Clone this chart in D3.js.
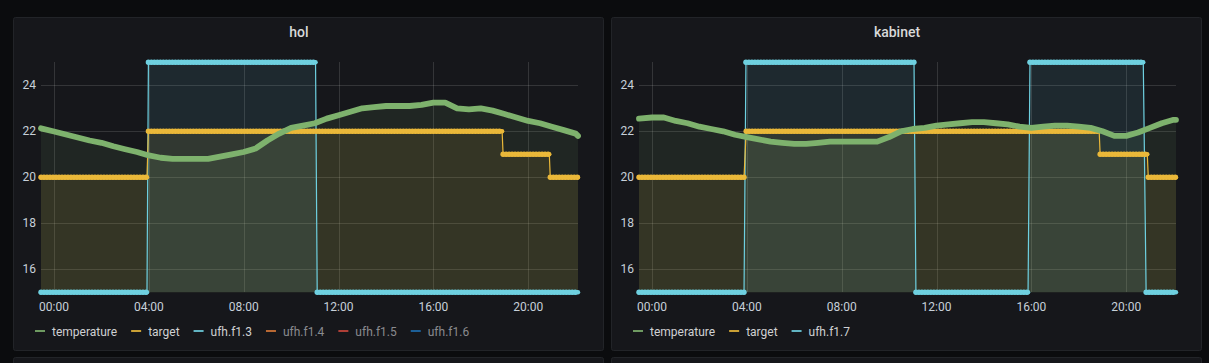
<!DOCTYPE html>
<html><head><meta charset="utf-8">
<script src="https://cdn.jsdelivr.net/npm/d3@7"></script>
<style>
html,body{margin:0;padding:0;background:#0b0c0e;}
svg{display:block;font-family:Roboto,"Noto Sans",sans-serif;}
</style>
</head><body>
<svg id="chart" width="1209" height="363"></svg>
<script>
// ---- data (hours relative to midnight) ----
const tempHours = [-0.55, 0, 0.5, 1, 1.5, 2, 2.5, 3, 3.5, 4, 4.5, 5, 5.5, 6, 6.5, 7, 7.5, 8, 8.5, 9, 9.5, 10, 10.5, 11, 11.5, 12, 12.5, 13, 13.5, 14, 14.5, 15, 15.5, 16, 16.5, 17, 17.5, 18, 18.5, 19, 19.5, 20, 20.5, 21, 21.5, 22, 22.1];
const holTemperature = [22.13, 21.99, 21.86, 21.73, 21.6, 21.5, 21.35, 21.22, 21.1, 20.95, 20.85, 20.8, 20.8, 20.8, 20.8, 20.9, 21.0, 21.1, 21.25, 21.6, 21.9, 22.15, 22.25, 22.35, 22.55, 22.7, 22.85, 23.0, 23.05, 23.1, 23.1, 23.1, 23.15, 23.25, 23.25, 23.0, 22.95, 23.0, 22.9, 22.75, 22.6, 22.45, 22.35, 22.2, 22.05, 21.9, 21.8];
const kabinetTemperature = [22.55, 22.6, 22.6, 22.45, 22.35, 22.2, 22.1, 22.0, 21.85, 21.75, 21.65, 21.55, 21.5, 21.45, 21.45, 21.5, 21.55, 21.55, 21.55, 21.55, 21.55, 21.75, 22.0, 22.1, 22.15, 22.25, 22.3, 22.35, 22.4, 22.4, 22.35, 22.3, 22.2, 22.15, 22.2, 22.25, 22.25, 22.2, 22.15, 22.0, 21.8, 21.8, 21.95, 22.15, 22.35, 22.5, 22.5];

const holTargetHours = [-0.55, 3.92, 3.98, 18.9, 18.94, 20.89, 20.93, 22.1];
const holTargetValues = [20, 20, 22, 22, 21, 21, 20, 20];
const holUfhHours = [-0.55, 3.92, 3.98, 11.03, 11.1, 22.1];
const holUfhValues = [15, 15, 25, 25, 15, 15];

const kabTargetHours = [-0.55, 3.88, 3.97, 18.86, 18.9, 20.89, 20.93, 22.1];
const kabTargetValues = [20, 20, 22, 22, 21, 21, 20, 20];
const kabUfhHours = [-0.55, 3.88, 3.96, 11.05, 11.13, 15.86, 15.94, 20.72, 20.84, 22.1];
const kabUfhValues = [15, 15, 25, 25, 15, 15, 25, 25, 15, 15];

const yTicks = [16, 18, 20, 22, 24];
const holLegend = ["temperature", "target", "ufh.f1.3", "ufh.f1.4", "ufh.f1.5", "ufh.f1.6"];
const holLegendDim = [false, false, false, true, true, true];
const kabLegend = ["temperature", "target", "ufh.f1.7"];
const kabLegendDim = [false, false, false];
const legendColors = ["#7EB26D", "#EAB839", "#6ED0E0", "#EF843C", "#E24D42", "#1F78C1"];

// ---- drawing ----
const svg = d3.select("#chart");
const base = new Date(2021, 0, 1, 0, 0, 0).getTime();
const toDate = h => new Date(base + h * 3600000);

function zip(hs, vs) { return hs.map((h, i) => ({t: toDate(h), v: vs[i]})); }

function drawPanel(px, title, series, legendNames, legendDim, id) {
  const pw = 590, ph = 333, py = 17;
  const g = svg.append("g");
  g.append("rect").attr("x", px + 0.5).attr("y", py + 0.5).attr("width", pw).attr("height", ph)
    .attr("rx", 2).attr("fill", "#16171b").attr("stroke", "#222428");
  g.append("text").attr("x", px + 286).attr("y", py + 20).attr("text-anchor", "middle")
    .attr("fill", "#d8d9da").attr("font-size", 14).attr("font-weight", 500).text(title);

  const x = d3.scaleTime().domain([toDate(-0.55), toDate(22.1)]).range([px + 28, px + 565]);
  const y = d3.scaleLinear().domain([15, 25]).range([292.3, 62.3]);

  // grid
  const xt = x.ticks(d3.timeHour.every(4));
  g.append("g").selectAll("line").data(xt).join("line")
    .attr("x1", d => Math.round(x(d)) + 0.5).attr("x2", d => Math.round(x(d)) + 0.5)
    .attr("y1", 62).attr("y2", 292).attr("stroke", "rgba(255,255,255,0.13)");
  g.append("g").selectAll("line").data(yTicks).join("line")
    .attr("x1", px + 28).attr("x2", px + 565)
    .attr("y1", d => Math.round(y(d)) + 0.5).attr("y2", d => Math.round(y(d)) + 0.5)
    .attr("stroke", "rgba(255,255,255,0.13)");

  // axes labels
  const fmt = d3.timeFormat("%H:%M");
  g.append("g").selectAll("text").data(xt).join("text")
    .attr("x", d => x(d)).attr("y", 311).attr("text-anchor", "middle")
    .attr("fill", "#c7d0d9").attr("font-size", 12).text(d => fmt(d));
  g.append("g").selectAll("text").data(yTicks).join("text")
    .attr("x", px + 23).attr("y", d => y(d) + 4).attr("text-anchor", "end")
    .attr("fill", "#c7d0d9").attr("font-size", 12).text(d => d);

  // clip
  svg.append("clipPath").attr("id", "clip" + id).append("rect")
    .attr("x", px + 24).attr("y", 55).attr("width", 546).attr("height", 242);
  const plot = g.append("g").attr("clip-path", `url(#clip${id})`);

  const area = d3.area().x(d => x(d.t)).y0(y(15)).y1(d => y(d.v));
  const line = d3.line().x(d => x(d.t)).y(d => y(d.v));

  // fills
  series.forEach(s => {
    plot.append("path").datum(s.data).attr("d", area).attr("fill", s.color).attr("fill-opacity", 0.1);
  });
  // lines
  series.slice().reverse().forEach(s => {
    if (s.step) {
      plot.append("path").datum(s.data).attr("d", line).attr("fill", "none")
        .attr("stroke", s.color).attr("stroke-width", 1.2);
      for (let i = 0; i < s.data.length - 1; i++) {
        if (s.data[i].v === s.data[i + 1].v) {
          const seg = [s.data[i], s.data[i + 1]];
          plot.append("path").datum(seg).attr("d", line).attr("fill", "none")
            .attr("stroke", s.color).attr("stroke-width", 4.4).attr("stroke-linecap", "round");
          plot.append("path").datum(seg).attr("d", line).attr("fill", "none")
            .attr("stroke", s.color).attr("stroke-width", 5.4).attr("stroke-linecap", "round")
            .attr("stroke-dasharray", "0 3");
        }
      }
    } else {
      plot.append("path").datum(s.data).attr("d", line).attr("fill", "none")
        .attr("stroke", s.color).attr("stroke-width", 5.8)
        .attr("stroke-linejoin", "round").attr("stroke-linecap", "round");
    }
  });

  // legend
  let lx = px + 22;
  legendNames.forEach((name, i) => {
    g.append("rect").attr("x", lx).attr("y", 330).attr("width", 10).attr("height", 2)
      .attr("fill", legendColors[i]).attr("opacity", legendDim[i] ? 0.75 : 0.85);
    const t = g.append("text").attr("x", lx + 17).attr("y", 336)
      .attr("fill", legendDim[i] ? "#8a8b8f" : "#d0d1d3").attr("font-size", 12).text(name);
    lx += 17 + t.node().getComputedTextLength() + 14;
  });

  // partial panel below
  svg.append("rect").attr("x", px + 0.5).attr("y", 357.5).attr("width", pw).attr("height", 20)
    .attr("rx", 2).attr("fill", "#16171b").attr("stroke", "#222428");
}

drawPanel(13, "hol", [
  {color: "#7EB26D", data: zip(tempHours, holTemperature)},
  {color: "#EAB839", data: zip(holTargetHours, holTargetValues), step: true},
  {color: "#6ED0E0", data: zip(holUfhHours, holUfhValues), step: true}
], holLegend, holLegendDim, 0);

drawPanel(611, "kabinet", [
  {color: "#7EB26D", data: zip(tempHours, kabinetTemperature)},
  {color: "#EAB839", data: zip(kabTargetHours, kabTargetValues), step: true},
  {color: "#6ED0E0", data: zip(kabUfhHours, kabUfhValues), step: true}
], kabLegend, kabLegendDim, 1);
</script>
</body></html>
